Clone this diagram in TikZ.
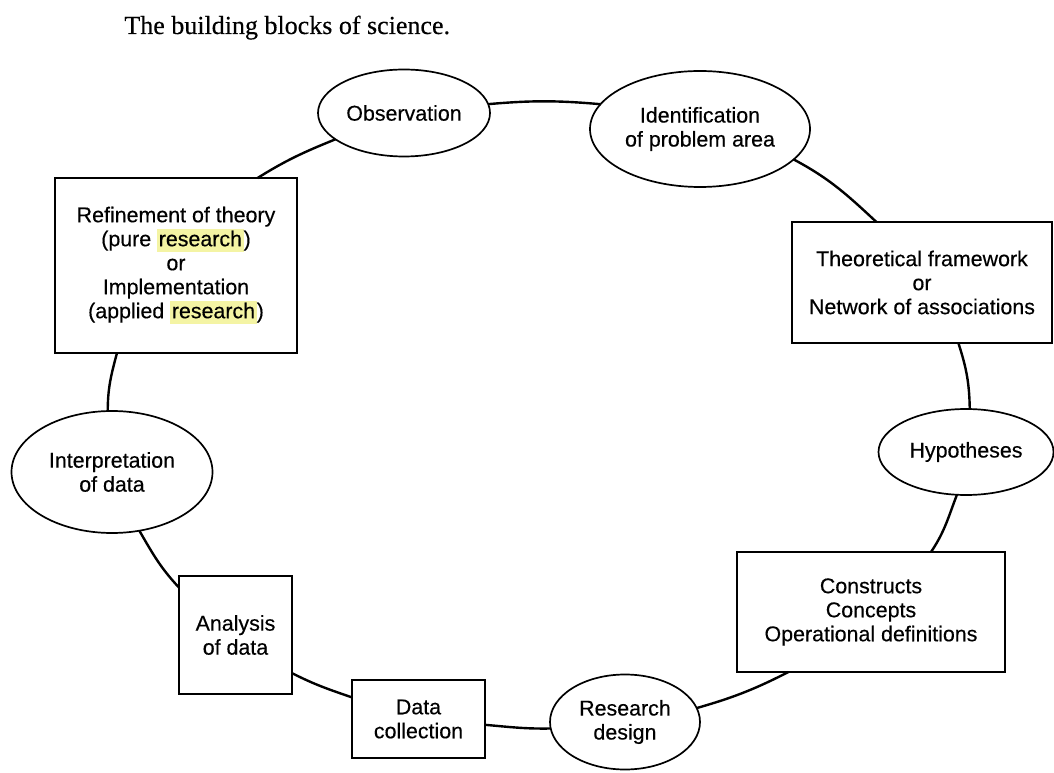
\documentclass[tikz,border=0pt]{standalone}
\usepackage{fontspec}
\setmainfont{Liberation Serif}
\newfontfamily\captionfont[FakeBold=0.4]{Liberation Serif}
\newfontfamily\labelfont[FakeBold=0.35]{Liberation Sans}
\usetikzlibrary{shapes.geometric}
\definecolor{hlyellow}{RGB}{244,244,164}
% marker-pen highlight behind a word
\newcommand{\hlword}[1]{{\setlength{\fboxsep}{0.8pt}\colorbox{hlyellow}{\vphantom{Ig}#1}}}
\begin{document}
\begin{tikzpicture}[x=0.5pt,y=0.5pt,
  blk/.style={draw=black, line width=0.85pt, fill=white, inner sep=0pt, outer sep=0pt,
              align=center, font=\labelfont\fontsize{10.7}{12}\selectfont},
  oval/.style={blk, ellipse},
  box/.style={blk, rectangle},
  link/.style={line width=1.2pt}]
\useasboundingbox (0,0) rectangle (1054,772);

% caption
\node[anchor=base west, inner sep=0pt, font=\captionfont\fontsize{13}{15}\selectfont] (title) at (124,738)
  {The building blocks of science.};

% stages of the cycle
\node[oval, minimum width=86pt, minimum height=43.5pt] (obs) at (404,659) {Observation};
\node[oval, minimum width=110pt, minimum height=58pt] (ident) at (700,643)
  {Identification\\of problem area};
\node[box, minimum width=130pt, minimum height=60.5pt] (theory) at (922,489.5)
  {Theoretical framework\\or\\Network of associations};
\node[oval, minimum width=87.5pt, minimum height=43pt] (hyp) at (966,320) {Hypotheses};
\node[box, minimum width=134pt, minimum height=60pt] (constr) at (871,160)
  {Constructs\\Concepts\\Operational definitions};
\node[oval, minimum width=75pt, minimum height=47.5pt] (design) at (625,50)
  {Research\\design};
\node[box, minimum width=66.5pt, minimum height=39pt] (collect) at (418.5,53)
  {Data\\collection};
\node[box, minimum width=56.5pt, minimum height=59pt] (analysis) at (235.5,137)
  {Analysis\\of data};
\node[oval, minimum width=100.5pt, minimum height=61pt] (interp) at (112,300)
  {Interpretation\\of data};
\node[box, minimum width=121pt, minimum height=87.5pt] (refine) at (176,506.5)
  {Refinement of theory\\(pure \hlword{research})\\or\\Implementation\\(applied \hlword{research})};

% the ring joining the stages
\draw[link] (obs.6)       to[out=5,   in=175]  (ident.166);
\draw[link] (ident.342)   to[out=-28, in=137]  (theory.127);
\draw[link] (theory.301)  to[out=-72, in=91]   (hyp.85);
\draw[link] (hyp.258)     to[out=-111,in=56]   (constr.45);
\draw[link] (constr.216)  to[out=-153,in=16]   (design.11);
\draw[link] (design.185)  to[out=181, in=-5]   (collect.355);
\draw[link] (collect.162) to[out=161, in=-27]  (analysis.326);
\draw[link] (analysis.140) to[out=133,in=-60]  (interp.295);
\draw[link] (interp.94)   to[out=90,  in=-105] (refine.236);
\draw[link] (refine.47)   to[out=32,  in=-158] (obs.201);
\end{tikzpicture}
\end{document}
